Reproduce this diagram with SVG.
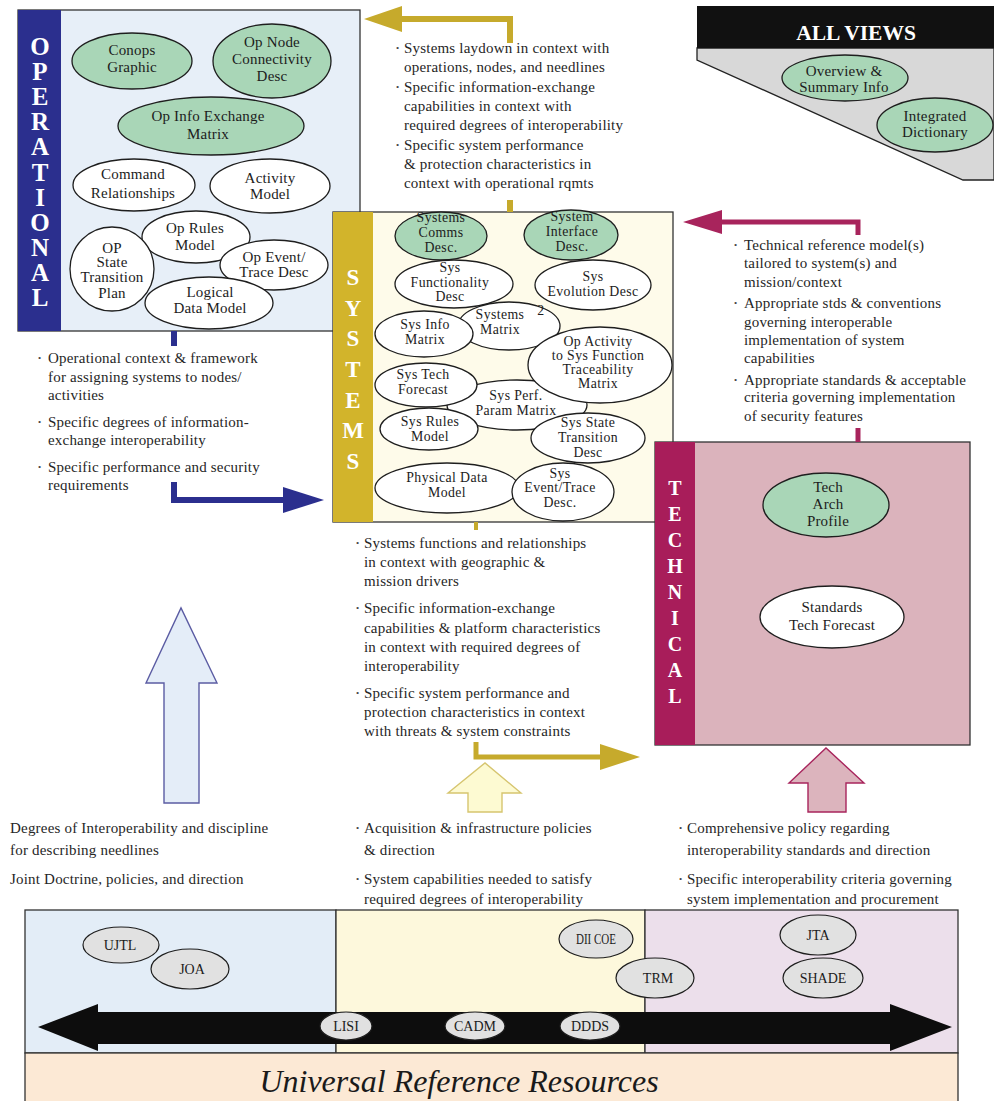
<svg xmlns="http://www.w3.org/2000/svg" width="994" height="1101" viewBox="0 0 994 1101">
  <style>
    text { font-family: "Liberation Serif", "Times New Roman", serif; }
    .t { font-size: 15px; letter-spacing: 0.2px; fill: #262626; }
    .b { font-size: 9px; fill: #444; }
    .n { font-size: 15px; letter-spacing: 0.2px; fill: #1c1c1c; text-anchor: middle; }
    .ns { font-size: 13.8px; letter-spacing: 0.4px; fill: #1c1c1c; text-anchor: middle; }
    .nb { font-size: 14px; fill: #1c1c1c; text-anchor: middle; }
    .band { font-weight: bold; fill: #ffffff; text-anchor: middle; }
    .w { fill: #ffffff; stroke: #1e1e1e; stroke-width: 1.3; }
    .g { fill: #a9d6b7; stroke: #1e1e1e; stroke-width: 1.3; }
    .gr { fill: #e1e1e1; stroke: #1e1e1e; stroke-width: 1.2; }
    .box { stroke: #333333; stroke-width: 1.3; }
  </style>

  <!-- Operational view -->
  <g id="operational">
    <rect x="18" y="10" width="342" height="321" fill="#e7eff8" class="box"/>
    <rect x="18" y="10" width="43" height="321" fill="#2b2f8e"/>
    <text class="band" font-size="25">
      <tspan x="40" y="55">O</tspan><tspan x="40" y="80">P</tspan><tspan x="40" y="105">E</tspan><tspan x="40" y="130">R</tspan><tspan x="40" y="155">A</tspan><tspan x="40" y="181">T</tspan><tspan x="40" y="206">I</tspan><tspan x="40" y="231">O</tspan><tspan x="40" y="256">N</tspan><tspan x="40" y="281">A</tspan><tspan x="40" y="306">L</tspan>
    </text>
  </g>
  <g id="conops-graphic">
    <ellipse cx="132" cy="61" rx="60" ry="28" class="g"/>
    <text class="n"><tspan x="132" y="55">Conops</tspan><tspan x="132" y="72">Graphic</tspan></text>
  </g>
  <g id="op-node-connectivity">
    <ellipse cx="272" cy="61" rx="59" ry="37" class="g"/>
    <text class="n"><tspan x="272" y="47">Op Node</tspan><tspan x="272" y="64">Connectivity</tspan><tspan x="272" y="81">Desc</tspan></text>
  </g>
  <g id="op-info-exchange">
    <ellipse cx="211" cy="126" rx="93" ry="29" class="g"/>
    <text class="n"><tspan x="208" y="121">Op Info Exchange</tspan><tspan x="208" y="139">Matrix</tspan></text>
  </g>
  <g id="command-relationships">
    <ellipse cx="134" cy="185" rx="61" ry="26" class="w"/>
    <text class="n"><tspan x="133" y="179">Command</tspan><tspan x="133" y="198">Relationships</tspan></text>
  </g>
  <g id="activity-model">
    <ellipse cx="270" cy="186" rx="60" ry="27" class="w"/>
    <text class="n"><tspan x="270" y="183">Activity</tspan><tspan x="270" y="199">Model</tspan></text>
  </g>
  <g id="op-rules-model">
    <ellipse cx="196" cy="237" rx="54" ry="26" class="w"/>
    <text class="n"><tspan x="195" y="233">Op Rules</tspan><tspan x="195" y="250">Model</tspan></text>
  </g>
  <g id="op-state-transition">
    <ellipse cx="112" cy="269" rx="42" ry="42" class="w"/>
    <text class="n"><tspan x="112" y="253">OP</tspan><tspan x="112" y="267">State</tspan><tspan x="112" y="282">Transition</tspan><tspan x="112" y="298">Plan</tspan></text>
  </g>
  <g id="op-event-trace">
    <ellipse cx="274" cy="265" rx="54" ry="25" class="w"/>
    <text class="n"><tspan x="274" y="262">Op Event/</tspan><tspan x="274" y="277">Trace Desc</tspan></text>
  </g>
  <g id="logical-data-model">
    <ellipse cx="209" cy="303" rx="64" ry="26" class="w"/>
    <text class="n"><tspan x="210" y="297">Logical</tspan><tspan x="210" y="313">Data Model</tspan></text>
  </g>

  <!-- Systems view -->
  <g id="systems">
    <rect x="333" y="212" width="340" height="310" fill="#fefbea" class="box"/>
    <rect x="333" y="212" width="40" height="310" fill="#d2b42b"/>
    <text class="band" font-size="23" fill="#fffbe6">
      <tspan x="353" y="285">S</tspan><tspan x="353" y="316">Y</tspan><tspan x="353" y="346">S</tspan><tspan x="353" y="377">T</tspan><tspan x="353" y="408">E</tspan><tspan x="353" y="438">M</tspan><tspan x="353" y="469">S</tspan>
    </text>
  </g>
  <g id="systems-comms-desc">
    <ellipse cx="441" cy="236" rx="46" ry="24" class="g"/>
    <text class="ns"><tspan x="441" y="222">Systems</tspan><tspan x="441" y="237">Comms</tspan><tspan x="441" y="252">Desc.</tspan></text>
  </g>
  <g id="system-interface-desc">
    <ellipse cx="571" cy="235" rx="47" ry="25" class="g"/>
    <text class="ns"><tspan x="572" y="221">System</tspan><tspan x="572" y="236">Interface</tspan><tspan x="572" y="251">Desc.</tspan></text>
  </g>
  <g id="sys-functionality-desc">
    <ellipse cx="454" cy="284" rx="59" ry="24" class="w"/>
    <text class="ns"><tspan x="450" y="272">Sys</tspan><tspan x="450" y="287">Functionality</tspan><tspan x="450" y="301">Desc</tspan></text>
  </g>
  <g id="sys-evolution-desc">
    <ellipse cx="593" cy="285" rx="58" ry="25" class="w"/>
    <text class="ns"><tspan x="593" y="281">Sys</tspan><tspan x="593" y="296">Evolution Desc</tspan></text>
  </g>
  <g id="systems-matrix">
    <ellipse cx="509" cy="326" rx="51" ry="24" class="w"/>
    <text class="ns"><tspan x="500" y="319">Systems</tspan><tspan x="500" y="334">Matrix</tspan></text>
    <text class="ns" font-size="10" x="541" y="315">2</text>
  </g>
  <g id="sys-info-matrix">
    <ellipse cx="424" cy="334" rx="49" ry="23" class="w"/>
    <text class="ns"><tspan x="425" y="329">Sys Info</tspan><tspan x="425" y="344">Matrix</tspan></text>
  </g>
  <g id="sys-perf-param-matrix">
    <ellipse cx="517" cy="405" rx="70" ry="25" class="w"/>
    <text class="ns"><tspan x="516" y="400">Sys Perf.</tspan><tspan x="516" y="415">Param Matrix</tspan></text>
  </g>
  <g id="op-activity-traceability">
    <ellipse cx="600" cy="365" rx="72" ry="38" class="w"/>
    <text class="ns"><tspan x="598" y="346">Op Activity</tspan><tspan x="598" y="360">to Sys Function</tspan><tspan x="598" y="374">Traceability</tspan><tspan x="598" y="388">Matrix</tspan></text>
  </g>
  <g id="sys-tech-forecast">
    <ellipse cx="426" cy="385" rx="51" ry="22" class="w"/>
    <text class="ns"><tspan x="423" y="379">Sys Tech</tspan><tspan x="423" y="394">Forecast</tspan></text>
  </g>
  <g id="sys-rules-model">
    <ellipse cx="429" cy="429" rx="49" ry="21" class="w"/>
    <text class="ns"><tspan x="430" y="426">Sys Rules</tspan><tspan x="430" y="441">Model</tspan></text>
  </g>
  <g id="sys-state-transition">
    <ellipse cx="588" cy="438" rx="57" ry="25" class="w"/>
    <text class="ns"><tspan x="588" y="427">Sys State</tspan><tspan x="588" y="442">Transition</tspan><tspan x="588" y="457">Desc</tspan></text>
  </g>
  <g id="physical-data-model">
    <ellipse cx="447" cy="488" rx="72" ry="25" class="w"/>
    <text class="ns"><tspan x="447" y="482">Physical Data</tspan><tspan x="447" y="497">Model</tspan></text>
  </g>
  <g id="sys-event-trace">
    <ellipse cx="563" cy="492" rx="51" ry="29" class="w"/>
    <text class="ns"><tspan x="560" y="478">Sys</tspan><tspan x="560" y="492">Event/Trace</tspan><tspan x="560" y="507">Desc.</tspan></text>
  </g>

  <!-- Technical view -->
  <g id="technical">
    <rect x="655" y="442" width="315" height="303" fill="#dbb3bc" class="box"/>
    <rect x="655" y="442" width="40" height="303" fill="#a81d5a"/>
    <text class="band" font-size="20">
      <tspan x="675" y="495">T</tspan><tspan x="675" y="521">E</tspan><tspan x="675" y="547">C</tspan><tspan x="675" y="573">H</tspan><tspan x="675" y="599">N</tspan><tspan x="675" y="625">I</tspan><tspan x="675" y="651">C</tspan><tspan x="675" y="677">A</tspan><tspan x="675" y="703">L</tspan>
    </text>
  </g>
  <g id="tech-arch-profile">
    <ellipse cx="826" cy="505" rx="63" ry="32" class="g"/>
    <text class="n"><tspan x="828" y="492">Tech</tspan><tspan x="828" y="509">Arch</tspan><tspan x="828" y="526">Profile</tspan></text>
  </g>
  <g id="standards-tech-forecast">
    <ellipse cx="832" cy="617" rx="72" ry="31" class="w"/>
    <text class="n"><tspan x="832" y="612">Standards</tspan><tspan x="832" y="630">Tech Forecast</tspan></text>
  </g>

  <!-- All views -->
  <g id="all-views">
    <polygon points="697,48 994,48 994,180 963,180 697,60" fill="#d8d8d8" stroke="#222" stroke-width="1.3"/>
    <rect x="697" y="6" width="297" height="42" fill="#111111"/>
    <text class="band" font-size="21.5" x="856" y="40">ALL VIEWS</text>
  </g>
  <g id="overview-summary">
    <ellipse cx="845" cy="78" rx="63" ry="23" class="g"/>
    <text class="n"><tspan x="844" y="76">Overview &amp;</tspan><tspan x="844" y="92">Summary Info</tspan></text>
  </g>
  <g id="integrated-dictionary">
    <ellipse cx="935" cy="125" rx="58" ry="27" class="g"/>
    <text class="n"><tspan x="935" y="121">Integrated</tspan><tspan x="935" y="137">Dictionary</tspan></text>
  </g>

  <!-- Flow arrows between views -->
  <g id="connectors" fill="none">
    <!-- systems -> operational -->
    <path d="M510 43 V19 H398" stroke="#c6aa2c" stroke-width="6"/>
    <polygon points="402,6 364,19 402,32" fill="#c6aa2c"/>
    <path d="M510 200 V212" stroke="#c6aa2c" stroke-width="6"/>
    <!-- operational -> systems -->
    <path d="M174 331 V346" stroke="#2b2f8e" stroke-width="6"/>
    <path d="M174 482 V500 H286" stroke="#2b2f8e" stroke-width="6"/>
    <polygon points="283,487 324,500 283,513" fill="#2b2f8e"/>
    <!-- technical -> systems -->
    <path d="M858 235 V222 H718" stroke="#a8245c" stroke-width="5"/>
    <polygon points="722,210 683,222 722,234" fill="#a8245c"/>
    <path d="M858 428 V442" stroke="#a8245c" stroke-width="5"/>
    <!-- systems -> technical -->
    <path d="M476 522 V530" stroke="#c6aa2c" stroke-width="4"/>
    <path d="M476 742 V757 H604" stroke="#c6aa2c" stroke-width="5"/>
    <polygon points="600,744 640,757 600,770" fill="#c6aa2c"/>
    <!-- hollow upward arrows from reference resources -->
    <polygon points="164,803 164,683 146,683 181,608 217,683 199,683 199,803" fill="#e4edf8" stroke="#5b5ca3" stroke-width="1.4"/>
    <polygon points="468,812 468,793 448,793 485,763 521,793 502,793 502,812" fill="#fdfad2" stroke="#d6c56f" stroke-width="1.4"/>
    <polygon points="808,812 808,783 789,783 826,748 864,783 846,783 846,812" fill="#dcb4bd" stroke="#a8245c" stroke-width="1.4"/>
  </g>

  <!-- Bullet text blocks -->
  <g id="notes-systems-to-op">
    <text class="b"><tspan x="396" y="51">•</tspan><tspan x="396" y="90">•</tspan><tspan x="396" y="148">•</tspan></text>
    <text class="t"><tspan x="404" y="53">Systems laydown in context with</tspan><tspan x="404" y="72">operations, nodes, and needlines</tspan><tspan x="404" y="92">Specific information-exchange</tspan><tspan x="404" y="111">capabilities in context with</tspan><tspan x="404" y="130">required degrees of interoperability</tspan><tspan x="404" y="150">Specific system performance</tspan><tspan x="404" y="169">&amp; protection characteristics in</tspan><tspan x="404" y="188">context with operational rqmts</tspan></text>
  </g>
  <g id="notes-tech-to-sys">
    <text class="b"><tspan x="734" y="248">•</tspan><tspan x="734" y="306">•</tspan><tspan x="734" y="383">•</tspan></text>
    <text class="t"><tspan x="744" y="250">Technical reference model(s)</tspan><tspan x="744" y="268">tailored to system(s) and</tspan><tspan x="744" y="287">mission/context</tspan><tspan x="744" y="308">Appropriate stds &amp; conventions</tspan><tspan x="744" y="327">governing interoperable</tspan><tspan x="744" y="345">implementation of system</tspan><tspan x="744" y="363">capabilities</tspan><tspan x="744" y="385">Appropriate standards &amp; acceptable</tspan><tspan x="744" y="402">criteria governing implementation</tspan><tspan x="744" y="421">of security features</tspan></text>
  </g>
  <g id="notes-op-to-sys">
    <text class="b"><tspan x="38" y="361">•</tspan><tspan x="38" y="425">•</tspan><tspan x="38" y="470">•</tspan></text>
    <text class="t"><tspan x="48" y="363">Operational context &amp; framework</tspan><tspan x="48" y="382">for assigning systems to nodes/</tspan><tspan x="48" y="400">activities</tspan><tspan x="48" y="427">Specific degrees of information-</tspan><tspan x="48" y="445">exchange interoperability</tspan><tspan x="48" y="472">Specific performance and security</tspan><tspan x="48" y="490">requirements</tspan></text>
  </g>
  <g id="notes-sys-to-tech">
    <text class="b"><tspan x="356" y="546">•</tspan><tspan x="356" y="611">•</tspan><tspan x="356" y="696">•</tspan></text>
    <text class="t"><tspan x="364" y="548">Systems functions and relationships</tspan><tspan x="364" y="567">in context with geographic &amp;</tspan><tspan x="364" y="586">mission drivers</tspan><tspan x="364" y="613">Specific information-exchange</tspan><tspan x="364" y="633">capabilities &amp; platform characteristics</tspan><tspan x="364" y="652">in context with required degrees of</tspan><tspan x="364" y="671">interoperability</tspan><tspan x="364" y="698">Specific system performance and</tspan><tspan x="364" y="717">protection characteristics in context</tspan><tspan x="364" y="736">with threats &amp; system constraints</tspan></text>
  </g>
  <g id="notes-resources">
    <text class="t"><tspan x="10" y="833">Degrees of Interoperability and discipline</tspan><tspan x="10" y="855">for describing needlines</tspan><tspan x="10" y="884">Joint Doctrine, policies, and direction</tspan></text>
    <text class="b"><tspan x="356" y="831">•</tspan><tspan x="356" y="882">•</tspan><tspan x="679" y="831">•</tspan><tspan x="679" y="882">•</tspan></text>
    <text class="t"><tspan x="364" y="833">Acquisition &amp; infrastructure policies</tspan><tspan x="364" y="855">&amp; direction</tspan><tspan x="364" y="884">System capabilities needed to satisfy</tspan><tspan x="364" y="904">required degrees of interoperability</tspan></text>
    <text class="t"><tspan x="687" y="833">Comprehensive policy regarding</tspan><tspan x="687" y="855">interoperability standards and direction</tspan><tspan x="687" y="884">Specific interoperability criteria governing</tspan><tspan x="687" y="904">system implementation and procurement</tspan></text>
  </g>

  <!-- Universal reference resources -->
  <g id="reference-resources">
    <rect x="25" y="910" width="311" height="143" fill="#e3edf7" class="box"/>
    <rect x="336" y="910" width="309" height="143" fill="#fdf8dc" class="box"/>
    <rect x="645" y="910" width="313" height="143" fill="#ecdfeb" class="box"/>
    <rect x="25" y="1053" width="933" height="50" fill="#fce9d5" class="box"/>
    <text x="459" y="1092" font-size="32" font-style="italic" fill="#1a1a1a" text-anchor="middle">Universal Reference Resources</text>
    <polygon points="38,1027 98,1004 98,1012 890,1012 890,1004 952,1027 890,1051 890,1044 98,1044 98,1051" fill="#0d0d0d"/>
  </g>
  <g id="joa">
    <ellipse cx="190" cy="969" rx="39" ry="20" class="gr"/>
    <text class="nb" x="192" y="974">JOA</text>
  </g>
  <g id="ujtl">
    <ellipse cx="121" cy="945" rx="38" ry="18" class="gr"/>
    <text class="nb" x="120" y="950">UJTL</text>
  </g>
  <g id="dii-coe">
    <ellipse cx="596" cy="939" rx="37" ry="19" class="gr"/>
    <text class="nb" x="596" y="944" textLength="40" lengthAdjust="spacingAndGlyphs">DII COE</text>
  </g>
  <g id="trm">
    <ellipse cx="655" cy="978" rx="39" ry="20" class="gr"/>
    <text class="nb" x="658" y="983">TRM</text>
  </g>
  <g id="jta">
    <ellipse cx="818" cy="935" rx="38" ry="20" class="gr"/>
    <text class="nb" x="818" y="940">JTA</text>
  </g>
  <g id="shade">
    <ellipse cx="823" cy="978" rx="40" ry="20" class="gr"/>
    <text class="nb" x="823" y="983">SHADE</text>
  </g>
  <g id="lisi">
    <ellipse cx="346" cy="1026" rx="26" ry="14" class="gr"/>
    <text class="nb" x="346" y="1031">LISI</text>
  </g>
  <g id="cadm">
    <ellipse cx="475" cy="1026" rx="30" ry="14" class="gr"/>
    <text class="nb" x="475" y="1031">CADM</text>
  </g>
  <g id="ddds">
    <ellipse cx="590" cy="1026" rx="30" ry="14" class="gr"/>
    <text class="nb" x="590" y="1031">DDDS</text>
  </g>
</svg>
